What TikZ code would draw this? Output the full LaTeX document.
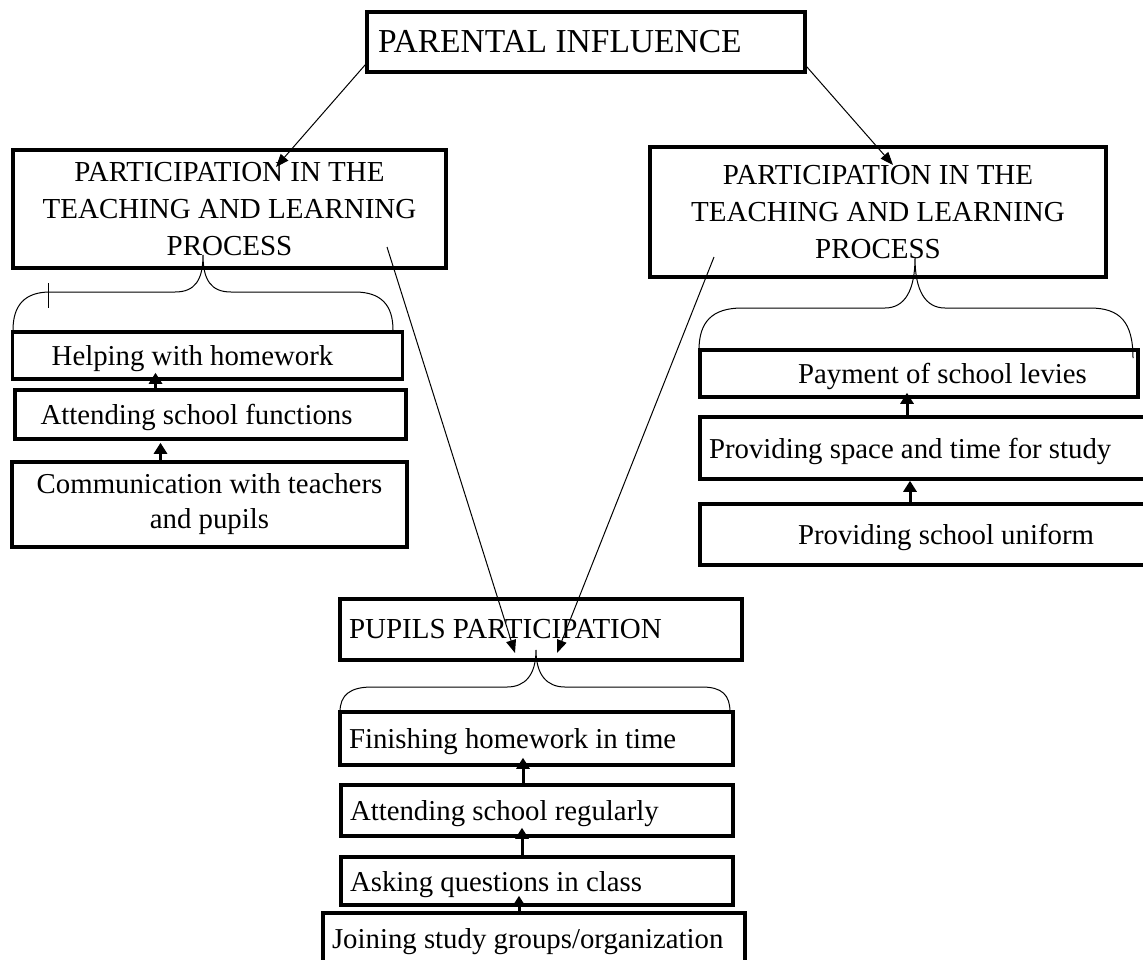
\documentclass[tikz,border=0pt]{standalone}
\usepackage{fontspec}
\setmainfont{Liberation Serif}
\usetikzlibrary{arrows.meta,calc}

\tikzset{every picture/.style={line width=0.75pt}}
\tikzset{
  headfont/.style={font=\fontsize{29pt}{37pt}\selectfont},
  itemfont/.style={font=\fontsize{28.8pt}{35pt}\selectfont},
  box/.style={draw, line width=3.5pt, rectangle, inner sep=0pt},
  headbox/.style={box, headfont, align=center},
  itembox/.style={box, itemfont, align=center},
  leftbox/.style={box, align=flush left, inner xsep=9pt},
  oneline/.style={text height=22pt, text depth=2pt},
  thinarrow/.style={line width=1pt, -{Triangle[length=13pt,width=10pt]}},
  uparrow/.style={line width=3pt, -{Triangle[length=11pt,width=13pt]}},
  bracket/.style={line width=1pt},
}

\begin{document}
\begin{tikzpicture}[x=1pt,y=1pt,yscale=-1]
\useasboundingbox (0,0) rectangle (1143,959);

%Shape: Rectangle
\node[leftbox, font=\fontsize{33.5pt}{40pt}\selectfont, text width=416pt, inner xsep=11pt, minimum height=60pt] (parent) at (586,42) {PARENTAL INFLUENCE};
%Shape: Rectangle
\node[headbox, minimum width=433pt, minimum height=118pt] (partLeft) at (229.5,209) {PARTICIPATION IN THE\\TEACHING AND LEARNING\\PROCESS};
%Shape: Rectangle
\node[headbox, minimum width=456pt, minimum height=130pt] (partRight) at (878,212) {PARTICIPATION IN THE\\TEACHING AND LEARNING\\PROCESS};

% left column
\node[itembox, oneline, minimum width=390pt, minimum height=47pt] (homework) at (207.5,355.5) {Helping with homework\hspace*{30pt}};
\node[itembox, oneline, minimum width=391pt, minimum height=49pt] (functions) at (210.5,414.5) {Attending school functions\hspace*{28pt}};
\node[itembox, minimum width=395pt, minimum height=85pt] (communication) at (209.5,504.5) {Communication with teachers\\and pupils};

% right column
\node[itembox, oneline, minimum width=438pt, minimum height=47pt] (levies) at (919,373.5) {\hspace*{47pt}Payment of school levies};
\node[leftbox, itemfont, oneline, text width=442pt, minimum height=62pt] (space) at (930,448) {Providing space and time for study};
\node[itembox, oneline, minimum width=460pt, minimum height=61pt] (uniform) at (930,534.5) {\hspace*{32pt}Providing school uniform};

% bottom column
\node[leftbox, headfont, text width=384pt, minimum height=61pt] (pupils) at (541,629.5) {PUPILS PARTICIPATION};
\node[leftbox, itemfont, oneline, text width=375pt, minimum height=53pt] (finishing) at (536.5,738.5) {Finishing homework in time};
\node[leftbox, itemfont, oneline, text width=374pt, minimum height=51pt] (regularly) at (537,810.5) {Attending school regularly};
\node[leftbox, itemfont, oneline, text width=374pt, minimum height=48pt] (questions) at (537,881) {Asking questions in class};
\node[leftbox, itemfont, oneline, text width=404pt, minimum height=50pt] (groups) at (534,938) {Joining study groups/organization};

\coordinate (leftIn) at (276,167);
\coordinate (rightIn) at (893,165);
\coordinate (leftOut) at (387,247);
\coordinate (rightOut) at (714,257);
\coordinate (pupilsL) at (515,653);
\coordinate (pupilsR) at (557,653);

%Straight Lines
\draw[thinarrow] ($(parent.south west)+(0,-9)$) -- (leftIn);
\draw[thinarrow] ($(parent.south east)+(0,-7)$) -- (rightIn);
\draw[thinarrow] (leftOut) -- (pupilsL);
\draw[thinarrow] (rightOut) -- (pupilsR);

%Straight Lines
\draw[uparrow] ($(communication.north)+(-49,0)$) -- ($(functions.south)+(-50,2)$);
\draw[uparrow] ($(functions.north)+(-55,0)$) -- ($(homework.south)+(-52,-8)$);
\draw[uparrow] ($(space.north)+(-23,0)$) -- ($(levies.south)+(-12,-6)$);
\draw[uparrow] ($(uniform.north)+(-20,0)$) -- ($(space.south)+(-20,0)$);
\draw[uparrow] ($(regularly.north)+(-14,0)$) -- ($(finishing.south)+(-13.5,-9)$);
\draw[uparrow] ($(questions.north)+(-15,0)$) -- ($(regularly.south)+(-15,-10)$);
\draw[uparrow] ($(groups.north)+(-15,0)$) -- ($(questions.south)+(-18,-11)$);

%Shape: Brace
\draw[bracket] (13,330) .. controls (13,305) and (25,292) .. (50,292) -- (175,292) .. controls (195,292) and (203,280) .. (203,255) .. controls (203,280) and (211,292) .. (231,292) -- (355,292) .. controls (381,292) and (393,305) .. (393,330);
\draw[bracket] (48,283) -- (48,308);
%Shape: Brace
\draw[bracket] (699,350) .. controls (699,322) and (712,308) .. (742,308) -- (885,308) .. controls (905,308) and (915,290) .. (915,258) .. controls (915,290) and (925,308) .. (945,308) -- (1090,308) .. controls (1120,308) and (1133,322) .. (1133,358);
%Shape: Brace
\draw[bracket] (340,712) .. controls (340,695) and (350,687) .. (372,687) -- (507,687) .. controls (525,687) and (536,675) .. (536,650) .. controls (536,675) and (547,687) .. (565,687) -- (702,687) .. controls (722,687) and (730,695) .. (730,712);

\end{tikzpicture}
\end{document}
